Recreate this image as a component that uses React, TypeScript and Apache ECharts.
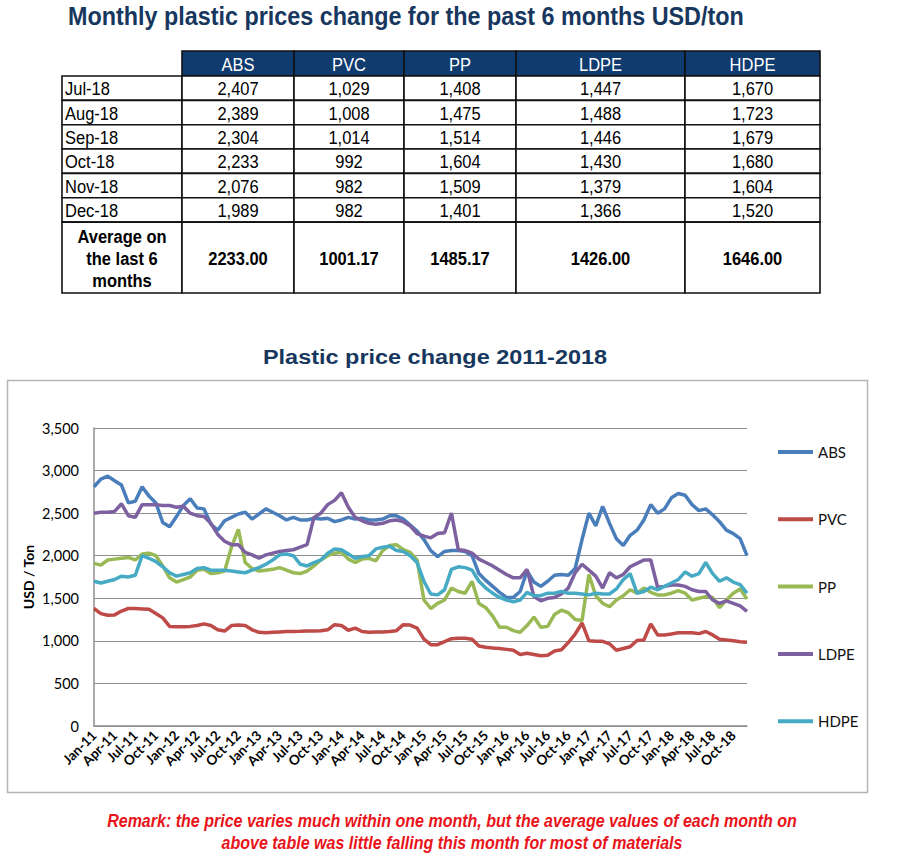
import React, { useEffect, useRef } from "react";
import * as echarts from "echarts";

// ---------- Table data ----------
const tableMonths = ["Jul-18", "Aug-18", "Sep-18", "Oct-18", "Nov-18", "Dec-18"];
const tableHeaders = ["ABS", "PVC", "PP", "LDPE", "HDPE"];
const tableABS = [2407, 2389, 2304, 2233, 2076, 1989];
const tablePVC = [1029, 1008, 1014, 992, 982, 982];
const tablePP = [1408, 1475, 1514, 1604, 1509, 1401];
const tableLDPE = [1447, 1488, 1446, 1430, 1379, 1366];
const tableHDPE = [1670, 1723, 1679, 1680, 1604, 1520];
const avgLabel = ["Average on", "the last 6", "months"];

// ---------- Chart data (monthly, Jan-11 .. Dec-18) ----------
const monthNames = ["Jan", "Feb", "Mar", "Apr", "May", "Jun", "Jul", "Aug", "Sep", "Oct", "Nov", "Dec"];
const yearLabels = ["11", "12", "13", "14", "15", "16", "17", "18"];
const seriesNames = ["ABS", "PVC", "PP", "LDPE", "HDPE"];
const yTicks = [0, 500, 1000, 1500, 2000, 2500, 3000, 3500];

const absPrices = [
  2810, 2900, 2935, 2880, 2830, 2620, 2640, 2810, 2700, 2620,
  2390, 2340, 2460, 2590, 2670, 2560, 2550, 2370, 2300, 2410,
  2450, 2490, 2510, 2430, 2490, 2550, 2510, 2470, 2420, 2450,
  2420, 2420, 2440, 2430, 2440, 2400, 2420, 2450, 2430, 2440,
  2420, 2420, 2430, 2470, 2470, 2430, 2360, 2290, 2190, 2060,
  1990, 2050, 2060, 2060, 2050, 2000, 1790, 1710, 1640, 1570,
  1510, 1510, 1580, 1820, 1690, 1640, 1700, 1770, 1780, 1770,
  1850, 2190, 2500, 2350, 2580, 2380, 2200, 2120, 2240, 2300,
  2420, 2600, 2500, 2550, 2680, 2730, 2710, 2600, 2530, 2550,
  2480, 2400, 2300, 2260, 2200, 2000,
];
const pvcPrices = [
  1380, 1320, 1300, 1305, 1350, 1380, 1380, 1375, 1370, 1320,
  1270, 1170, 1165, 1165, 1170, 1180, 1200, 1180, 1130, 1115,
  1180, 1185, 1180, 1130, 1100, 1095, 1100, 1105, 1110, 1110,
  1112, 1115, 1115, 1118, 1130, 1190, 1180, 1125, 1150, 1110,
  1100, 1105, 1105, 1110, 1120, 1190, 1185, 1150, 1020, 955,
  955, 990, 1025, 1030, 1030, 1020, 940, 925, 915, 910,
  900, 890, 840, 855, 840, 825, 830, 880, 895, 980,
  1080, 1210, 1000, 995, 995, 965, 890, 910, 930, 1005,
  1010, 1200, 1070, 1070, 1080, 1095, 1095, 1095, 1085, 1110,
  1070, 1020, 1010, 1000, 990, 985,
];
const ppPrices = [
  1910, 1890, 1950, 1960, 1970, 1980, 1950, 2020, 2030, 2000,
  1880, 1740, 1690, 1720, 1750, 1830, 1840, 1790, 1800, 1820,
  2100, 2310, 1920, 1850, 1820, 1830, 1840, 1860, 1830, 1800,
  1790, 1820, 1880, 1950, 2000, 2030, 2040, 1960, 1920, 1960,
  1970, 1940, 2060, 2120, 2130, 2070, 2040, 1950, 1480, 1380,
  1440, 1480, 1620, 1580, 1560, 1700, 1440, 1390, 1290, 1160,
  1160, 1120, 1100, 1180, 1280, 1160, 1170, 1310, 1360, 1330,
  1250, 1240, 1780, 1530, 1440, 1400, 1480, 1530, 1600, 1560,
  1620, 1570, 1540, 1540, 1560, 1590, 1560, 1480, 1500, 1520,
  1510, 1390, 1480, 1560, 1610, 1490,
];
const ldpePrices = [
  2500, 2510, 2510, 2520, 2610, 2470, 2450, 2600, 2600, 2600,
  2590, 2590, 2570, 2580, 2500, 2470, 2460, 2380, 2250, 2170,
  2130, 2130, 2040, 2010, 1970, 2010, 2030, 2050, 2060, 2070,
  2100, 2130, 2450, 2500, 2600, 2650, 2740, 2570, 2450, 2410,
  2380, 2370, 2380, 2410, 2420, 2400, 2350, 2260, 2230, 2210,
  2260, 2270, 2500, 2070, 2060, 2030, 1960, 1920, 1880, 1830,
  1780, 1740, 1740, 1840, 1520, 1470, 1500, 1510, 1550, 1620,
  1800, 1900, 1830, 1760, 1620, 1800, 1740, 1780, 1870, 1910,
  1950, 1950, 1630, 1640, 1655, 1655, 1640, 1600, 1580, 1580,
  1480, 1440, 1470, 1440, 1410, 1345,
];
const hdpePrices = [
  1700, 1680, 1700, 1720, 1760, 1750, 1770, 2000, 1970, 1930,
  1870, 1800, 1760, 1780, 1800, 1850, 1860, 1830, 1830, 1830,
  1820, 1810, 1800, 1830, 1860, 1900, 1950, 2010, 2020, 2000,
  1900, 1880, 1920, 1950, 2030, 2080, 2070, 2020, 1970, 1990,
  2000, 2080, 2100, 2110, 2060, 2050, 2000, 1920, 1700, 1550,
  1540, 1600, 1840, 1870, 1860, 1830, 1700, 1620, 1560, 1510,
  1480, 1460, 1480, 1570, 1530, 1530, 1560, 1560, 1580, 1560,
  1560, 1550, 1540, 1560, 1550, 1550, 1610, 1720, 1790, 1560,
  1580, 1630, 1600, 1640, 1680, 1720, 1810, 1760, 1790, 1920,
  1790, 1700, 1740, 1690, 1660, 1560,
];
const seriesColors = ["#4a7ebb", "#be4b48", "#98b954", "#7d60a0", "#46aac5"];

const remarkLines = [
  "Remark: the price varies much within one month, but the average values of each month on",
  "above table was little falling this month for most of materials",
];

const ARIAL = "'Liberation Sans', Arial, sans-serif";
const BODY = "Lato, 'Open Sans', sans-serif";
const NARROW_SCALE = 0.916;

const fmt = (v: number) => v.toLocaleString("en-US");

function txt(x: number, y: number, text: string, font: string, fill: string, align: string, scaleX: number, extra: any = {}) {
  return { type: "text", x, y, scaleX, ...extra, style: { text, fill, font, align, verticalAlign: "middle" } };
}

function buildTable(): any[] {
  const colX = [62, 182, 294, 404, 516, 685, 820];
  const headerTop = 51;
  const headerH = 25;
  const rowTop = 76;
  const rowH = 24.35;
  const avgTop = rowTop + rowH * 6;
  const avgBottom = 293;
  const cols = [tableABS, tablePVC, tablePP, tableLDPE, tableHDPE];
  const els: any[] = [];
  const border = { stroke: "#111", lineWidth: 1.6 };
  const f = `18px ${ARIAL}`;
  const fb = `bold 18px ${ARIAL}`;
  tableHeaders.forEach((h, c) => {
    const x0 = colX[c + 1];
    const x1 = colX[c + 2];
    els.push({ type: "rect", shape: { x: x0, y: headerTop, width: x1 - x0, height: headerH }, style: { fill: "#0f3b6e", ...border } });
    els.push(txt((x0 + x1) / 2, headerTop + headerH / 2 + 1, h, f, "#fff", "center", NARROW_SCALE));
  });
  tableMonths.forEach((m, r) => {
    const y0 = rowTop + rowH * r;
    for (let c = 0; c < 6; c++) {
      els.push({ type: "rect", shape: { x: colX[c], y: y0, width: colX[c + 1] - colX[c], height: rowH }, style: { fill: "#fff", ...border } });
    }
    els.push(txt(colX[0] + 3, y0 + rowH / 2 + 1, m, f, "#000", "left", NARROW_SCALE));
    cols.forEach((arr, c) => {
      els.push(txt((colX[c + 1] + colX[c + 2]) / 2, y0 + rowH / 2 + 1, fmt(arr[r]), f, "#000", "center", NARROW_SCALE));
    });
  });
  for (let c = 0; c < 6; c++) {
    els.push({ type: "rect", shape: { x: colX[c], y: avgTop, width: colX[c + 1] - colX[c], height: avgBottom - avgTop }, style: { fill: "#fff", ...border } });
  }
  const avgMid = (avgTop + avgBottom) / 2;
  avgLabel.forEach((t, k) => {
    els.push(txt((colX[0] + colX[1]) / 2, avgMid + (k - 1) * 21.7 + 1, t, fb, "#000", "center", NARROW_SCALE));
  });
  cols.forEach((arr, c) => {
    const avg = arr.reduce((a, b) => a + b, 0) / arr.length;
    els.push(txt((colX[c + 1] + colX[c + 2]) / 2, avgMid + 1, avg.toFixed(2), fb, "#000", "center", NARROW_SCALE));
  });
  return els;
}

export default function App() {
  const ref = useRef<HTMLDivElement>(null);
  useEffect(() => {
    if (!ref.current) return;
    const chart = echarts.init(ref.current, undefined, { renderer: "svg" });
    const categories = yearLabels.flatMap((y) => monthNames.map((m) => `${m}-${y}`));
    const data = [absPrices, pvcPrices, ppPrices, ldpePrices, hdpePrices];
    chart.setOption({
      animation: false,
      backgroundColor: "#fff",
      color: seriesColors,
      graphic: [
        { type: "rect", z: -10, shape: { x: 7.5, y: 380.5, width: 860, height: 412 }, style: { fill: "none", stroke: "#b5b5b5", lineWidth: 1.5 } },
        txt(68, 16, "Monthly plastic prices change for the past 6 months USD/ton", `bold 25.5px ${ARIAL}`, "#17375e", "left", NARROW_SCALE),
        ...buildTable(),
        txt(435, 357, "Plastic price change 2011-2018", `bold 21px ${ARIAL}`, "#17375e", "center", 1.117),
        txt(28, 577, "USD / Ton", `bold 14px ${BODY}`, "#000", "center", 1, { rotation: Math.PI / 2 }),
        ...remarkLines.map((t, k) => txt(452, 821 + k * 22, t, `italic bold 17.5px ${ARIAL}`, "#e8141a", "center", NARROW_SCALE)),
      ],
      legend: {
        orient: "vertical",
        left: 778,
        top: 444,
        padding: 0,
        itemWidth: 35,
        itemHeight: 4,
        itemGap: 51.3,
        icon: "rect",
        data: seriesNames,
        textStyle: { fontFamily: BODY, fontSize: 15, color: "#111", lineHeight: 16 },
      },
      grid: { left: 94, top: 428, width: 653, height: 298 },
      xAxis: {
        type: "category",
        data: categories,
        boundaryGap: false,
        axisLine: { lineStyle: { color: "#8f8f8f", width: 1.5 } },
        axisTick: { show: false },
        axisLabel: { interval: 2, rotate: 45, margin: 7, fontFamily: BODY, fontSize: 13.5, fontWeight: "bold", color: "#000" },
        splitLine: { show: false },
      },
      yAxis: {
        type: "value",
        min: yTicks[0],
        max: yTicks[yTicks.length - 1],
        interval: yTicks[1] - yTicks[0],
        axisLine: { show: true, lineStyle: { color: "#8f8f8f", width: 1.5 } },
        axisTick: { show: false },
        axisLabel: { formatter: (v: number) => fmt(v), fontFamily: BODY, fontSize: 14.5, color: "#000", margin: 15 },
        splitLine: { lineStyle: { color: "#8f8f8f", width: 1.2 } },
      },
      series: seriesNames.map((n, k) => ({
        name: n,
        type: "line",
        data: data[k],
        showSymbol: false,
        symbol: "none",
        lineStyle: { width: 3.5 },
        z: 2 + k,
      })),
    });
    return () => chart.dispose();
  }, []);
  return <div ref={ref} style={{ position: "fixed", left: 0, top: 0, width: 903, height: 864 }} />;
}
